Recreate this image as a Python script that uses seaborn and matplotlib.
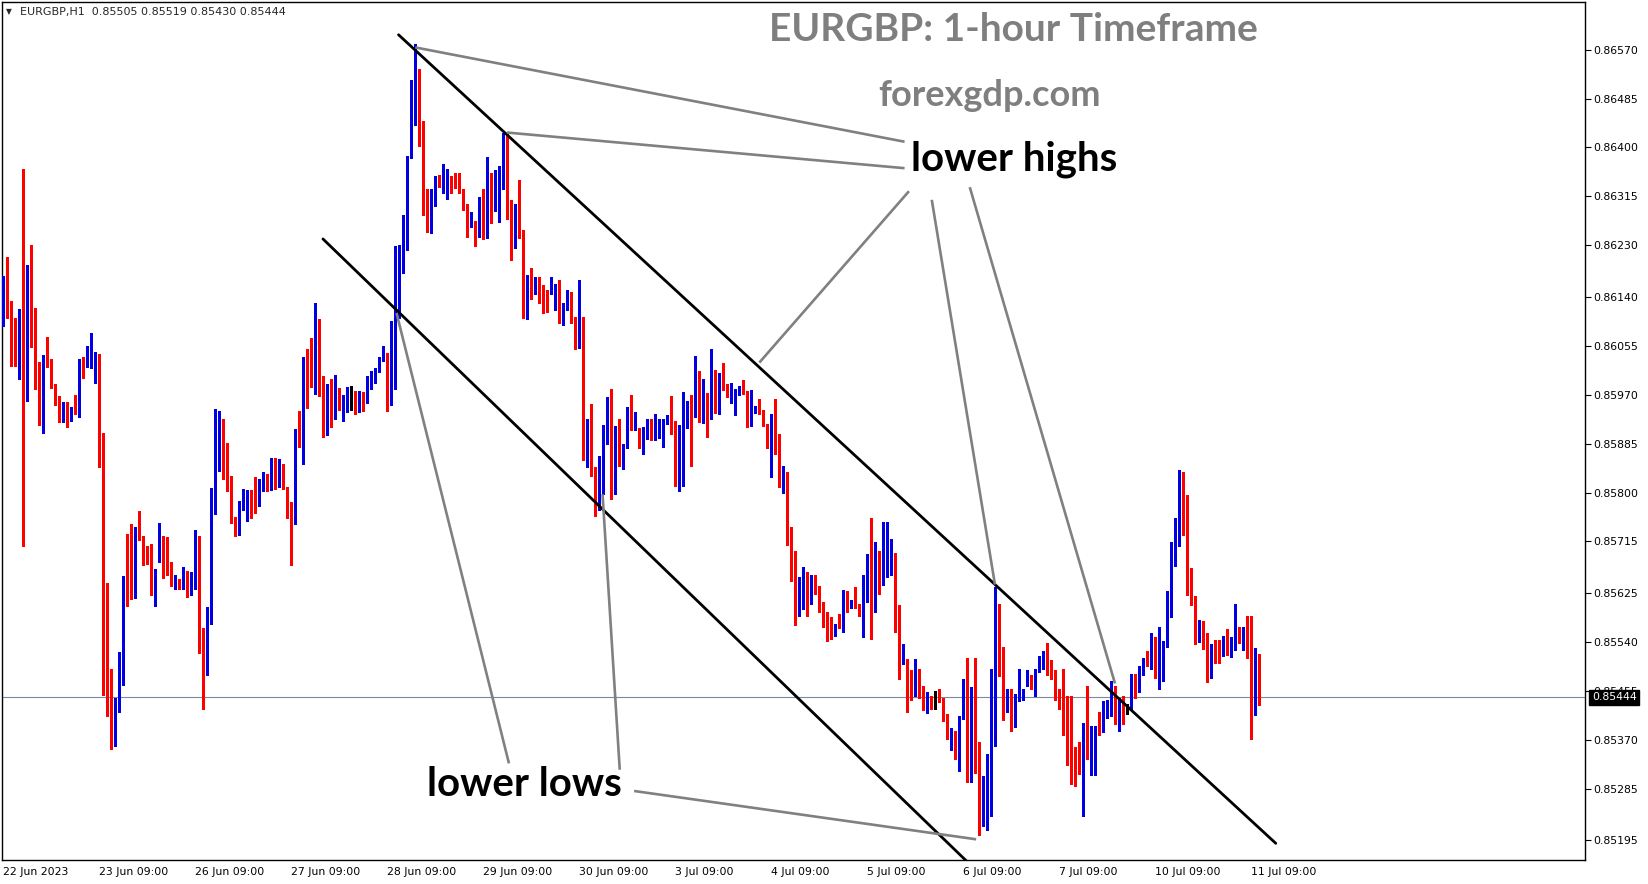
import numpy as np
import matplotlib
matplotlib.use("Agg")
from matplotlib import pyplot as plt
import seaborn as sns

# EURGBP H1 candles, prices in points (1 point = 0.00001)
opens = [
    86140, 86164, 86126, 86047, 86029, 86055, 86031, 86146, 86061, 85998, 85920, 86035,
    86023, 85985, 85961, 85937, 85954, 85927, 85943, 85940, 86022, 86019, 86021, 86031,
    86041, 85882, 85520, 85414, 85388, 85443, 85494, 85646, 85642, 85619, 85726, 85723,
    85701, 85694, 85616, 85719, 85719, 85721, 85676, 85639, 85643, 85634, 85661, 85624,
    85651, 85707, 85553, 85509, 85587, 85782, 85860, 85885, 85828, 85827, 85750, 85742,
    85782, 85802, 85792, 85782, 85786, 85809, 85827, 85820, 85844, 85812, 85846, 85810,
    85764, 85745, 85892, 85884, 86022, 86007, 85985, 86085, 85982, 85902, 85957, 85949,
    85977, 85943, 85941, 85957, 85963, 85951, 85968, 85957, 85988, 86001, 86011, 86031,
    86039, 85957, 86030, 86163, 86222, 86279, 86381, 86447, 86520, 86413, 86286, 86257,
    86299, 86351, 86338, 86327, 86337, 86346, 86336, 86326, 86298, 86268, 86272, 86247,
    86321, 86244, 86321, 86303, 86320, 86340, 86421, 86308, 86269, 86298, 86246, 86108,
    86179, 86149, 86153, 86157, 86144, 86150, 86156, 86161, 86095, 86119, 86148, 86104,
    86053, 86094, 85885, 85911, 85840, 85809, 85809, 85902, 85960, 85815, 85913, 85859,
    85879, 85941, 85921, 85903, 85895, 85902, 85924, 85900, 85906, 85912, 85921, 85925,
    85922, 85829, 85860, 85917, 85951, 85949, 85985, 85936, 85957, 85956, 86012, 85963,
    86007, 85980, 85957, 85936, 85973, 85990, 85975, 85917, 85943, 85946, 85940, 85918,
    85879, 85895, 85870, 85814, 85825, 85735, 85697, 85586, 85640, 85660, 85623, 85655,
    85636, 85595, 85581, 85581, 85552, 85579, 85568, 85624, 85602, 85607, 85602, 85593,
    85642, 85648, 85646, 85682, 85660, 85668, 85667, 85676, 85559, 85505, 85510, 85464,
    85461, 85494, 85453, 85418, 85444, 85443, 85444, 85440, 85403, 85372, 85385, 85348,
    85408, 85455, 85315, 85460, 85324, 85238, 85292, 85307, 85447, 85603, 85481, 85421,
    85455, 85394, 85440, 85451, 85464, 85480, 85461, 85490, 85501, 85522, 85484, 85482,
    85441, 85428, 85421, 85416, 85348, 85348, 85313, 85376, 85337, 85368, 85392, 85385,
    85409, 85415, 85462, 85388, 85429, 85424, 85424, 85482, 85461, 85494, 85512, 85499,
    85514, 85487, 85486, 85534, 85587, 85695, 85722, 85830, 85746, 85637, 85618, 85542,
    85575, 85545, 85486, 85541, 85528, 85520, 85546, 85527, 85538, 85562, 85547, 85560,
    85513, 85472, 85505,
]
highs = [
    86176, 86210, 86133, 86103, 86120, 86363, 86195, 86231, 86121, 86027, 86040, 86070,
    86032, 85989, 85968, 85957, 85958, 85949, 85970, 86033, 86035, 86055, 86078, 86045,
    86041, 85904, 85642, 85494, 85443, 85523, 85654, 85728, 85746, 85740, 85768, 85724,
    85707, 85711, 85667, 85747, 85724, 85723, 85679, 85657, 85649, 85671, 85664, 85661,
    85735, 85724, 85564, 85601, 85808, 85945, 85942, 85928, 85886, 85828, 85757, 85785,
    85806, 85805, 85804, 85827, 85824, 85835, 85832, 85860, 85860, 85858, 85850, 85810,
    85784, 85910, 85942, 86035, 86050, 86068, 86130, 86101, 86003, 85989, 85998, 86005,
    85982, 85969, 85983, 85985, 85977, 85977, 85975, 86003, 86011, 86017, 86035, 86055,
    86043, 86098, 86228, 86231, 86282, 86385, 86517, 86580, 86537, 86446, 86328, 86328,
    86350, 86352, 86372, 86362, 86350, 86356, 86356, 86327, 86302, 86288, 86273, 86314,
    86327, 86384, 86355, 86360, 86367, 86425, 86424, 86308, 86302, 86343, 86256, 86179,
    86190, 86174, 86174, 86161, 86153, 86175, 86163, 86169, 86130, 86153, 86149, 86105,
    86169, 86105, 85927, 85954, 85844, 85864, 85917, 85966, 85980, 85915, 85927, 85885,
    85949, 85970, 85940, 85912, 85914, 85928, 85928, 85937, 85928, 85928, 85934, 85967,
    85924, 85917, 85975, 85960, 85969, 86038, 86012, 85998, 85973, 86050, 86013, 86007,
    86025, 85989, 85990, 85980, 85986, 85996, 85976, 85979, 85950, 85963, 85943, 85920,
    85936, 85963, 85901, 85847, 85835, 85740, 85699, 85653, 85670, 85662, 85656, 85656,
    85638, 85610, 85592, 85583, 85571, 85589, 85630, 85629, 85613, 85636, 85607, 85656,
    85693, 85756, 85714, 85699, 85749, 85749, 85719, 85695, 85604, 85536, 85510, 85491,
    85510, 85494, 85463, 85453, 85447, 85455, 85458, 85443, 85415, 85390, 85386, 85412,
    85476, 85512, 85462, 85512, 85366, 85307, 85345, 85494, 85636, 85606, 85531, 85458,
    85459, 85449, 85494, 85459, 85491, 85482, 85494, 85516, 85525, 85538, 85508, 85491,
    85459, 85494, 85446, 85446, 85357, 85366, 85400, 85464, 85394, 85394, 85418, 85438,
    85440, 85473, 85464, 85443, 85446, 85433, 85485, 85485, 85498, 85513, 85525, 85555,
    85548, 85566, 85542, 85629, 85714, 85756, 85840, 85836, 85795, 85669, 85620, 85578,
    85576, 85555, 85536, 85543, 85544, 85550, 85563, 85549, 85607, 85567, 85567, 85586,
    85585, 85530, 85519,
]
lows = [
    86090, 86103, 86020, 86020, 85998, 85707, 85960, 86053, 85980, 85917, 85904, 86018,
    85982, 85953, 85922, 85922, 85914, 85925, 85937, 85932, 86000, 86018, 86017, 85991,
    85845, 85448, 85412, 85354, 85359, 85419, 85466, 85603, 85614, 85617, 85717, 85674,
    85675, 85621, 85603, 85679, 85652, 85656, 85637, 85632, 85632, 85633, 85619, 85621,
    85632, 85521, 85424, 85483, 85571, 85762, 85838, 85824, 85802, 85747, 85725, 85727,
    85769, 85750, 85756, 85765, 85776, 85802, 85802, 85805, 85807, 85810, 85807, 85756,
    85674, 85745, 85880, 85849, 85947, 85983, 85971, 85967, 85897, 85900, 85914, 85927,
    85943, 85925, 85940, 85943, 85937, 85940, 85941, 85955, 85980, 85991, 86009, 86029,
    85942, 85953, 85980, 86103, 86182, 86221, 86381, 86439, 86402, 86282, 86253, 86251,
    86298, 86331, 86320, 86311, 86320, 86330, 86320, 86291, 86244, 86261, 86228, 86244,
    86241, 86243, 86269, 86290, 86270, 86327, 86276, 86204, 86226, 86243, 86104, 86102,
    86137, 86146, 86130, 86112, 86114, 86145, 86117, 86095, 86092, 86117, 86094, 86050,
    86052, 85856, 85844, 85828, 85760, 85769, 85798, 85885, 85789, 85798, 85847, 85841,
    85878, 85909, 85908, 85878, 85867, 85893, 85892, 85891, 85895, 85879, 85920, 85902,
    85811, 85802, 85811, 85913, 85847, 85931, 85922, 85921, 85896, 85928, 85938, 85937,
    85978, 85966, 85956, 85934, 85969, 85972, 85914, 85915, 85938, 85937, 85915, 85878,
    85827, 85867, 85809, 85799, 85708, 85647, 85569, 85585, 85598, 85586, 85606, 85623,
    85592, 85566, 85542, 85546, 85551, 85565, 85557, 85592, 85599, 85599, 85586, 85548,
    85609, 85546, 85592, 85623, 85640, 85653, 85656, 85557, 85475, 85501, 85419, 85440,
    85446, 85443, 85421, 85416, 85423, 85424, 85435, 85402, 85371, 85353, 85337, 85315,
    85406, 85296, 85296, 85313, 85205, 85220, 85214, 85238, 85360, 85481, 85404, 85418,
    85385, 85392, 85438, 85440, 85464, 85458, 85446, 85488, 85494, 85482, 85476, 85440,
    85424, 85379, 85327, 85293, 85290, 85311, 85237, 85336, 85308, 85308, 85379, 85383,
    85408, 85412, 85397, 85386, 85397, 85415, 85421, 85443, 85453, 85482, 85498, 85494,
    85477, 85459, 85473, 85532, 85583, 85672, 85707, 85727, 85621, 85604, 85536, 85540,
    85528, 85470, 85477, 85504, 85504, 85515, 85517, 85514, 85527, 85538, 85527, 85513,
    85372, 85414, 85430,
]
closes = [
    86166, 86126, 86043, 86029, 86055, 86031, 86146, 86061, 85998, 85920, 86035, 86023,
    85983, 85970, 85926, 85948, 85917, 85945, 85940, 86022, 86020, 86023, 86031, 86040,
    85882, 85512, 85414, 85388, 85443, 85496, 85644, 85642, 85619, 85728, 85719, 85699,
    85694, 85625, 85661, 85723, 85709, 85675, 85639, 85643, 85636, 85659, 85623, 85655,
    85705, 85553, 85509, 85587, 85786, 85862, 85882, 85825, 85824, 85749, 85742, 85782,
    85804, 85804, 85772, 85780, 85800, 85826, 85820, 85844, 85810, 85844, 85808, 85764,
    85746, 85892, 85882, 86021, 86003, 85985, 86085, 85985, 85902, 85961, 85949, 85977,
    85945, 85950, 85968, 85957, 85949, 85970, 85955, 85987, 86003, 86012, 86031, 86041,
    85960, 86033, 86163, 86226, 86282, 86385, 86447, 86520, 86410, 86285, 86256, 86299,
    86350, 86349, 86353, 86333, 86334, 86334, 86323, 86298, 86269, 86273, 86246, 86282,
    86244, 86321, 86302, 86320, 86340, 86420, 86305, 86272, 86301, 86243, 86106, 86179,
    86149, 86163, 86149, 86140, 86140, 86156, 86161, 86096, 86123, 86149, 86104, 86050,
    86094, 85885, 85909, 85840, 85809, 85812, 85901, 85960, 85815, 85913, 85858, 85879,
    85941, 85931, 85936, 85892, 85903, 85924, 85908, 85906, 85914, 85921, 85924, 85903,
    85829, 85847, 85917, 85950, 85949, 85988, 85934, 85947, 85954, 86012, 85979, 86004,
    85980, 85967, 85980, 85975, 85980, 85973, 85917, 85944, 85947, 85940, 85917, 85879,
    85895, 85869, 85811, 85827, 85734, 85699, 85569, 85640, 85664, 85653, 85655, 85635,
    85593, 85592, 85552, 85548, 85568, 85571, 85624, 85599, 85607, 85604, 85592, 85641,
    85661, 85647, 85681, 85660, 85670, 85676, 85676, 85559, 85502, 85512, 85464, 85461,
    85496, 85464, 85426, 85440, 85432, 85443, 85438, 85403, 85372, 85388, 85348, 85409,
    85455, 85315, 85460, 85315, 85238, 85290, 85307, 85450, 85604, 85481, 85423, 85455,
    85396, 85449, 85478, 85458, 85472, 85461, 85491, 85504, 85522, 85482, 85481, 85441,
    85427, 85420, 85415, 85348, 85345, 85313, 85376, 85337, 85368, 85392, 85385, 85410,
    85416, 85470, 85415, 85427, 85412, 85424, 85484, 85463, 85494, 85512, 85501, 85514,
    85488, 85490, 85534, 85587, 85696, 85721, 85832, 85746, 85635, 85618, 85540, 85575,
    85545, 85491, 85526, 85523, 85521, 85546, 85527, 85541, 85562, 85547, 85562, 85517,
    85473, 85505, 85444,
]

date_labels = ["22 Jun 2023", "23 Jun 09:00", "26 Jun 09:00", "27 Jun 09:00",
               "28 Jun 09:00", "29 Jun 09:00", "30 Jun 09:00", "3 Jul 09:00",
               "4 Jul 09:00", "5 Jul 09:00", "6 Jul 09:00", "7 Jul 09:00",
               "10 Jul 09:00", "11 Jul 09:00"]
bars_per_label = 24

price_ticks = [0.86570, 0.86485, 0.86400, 0.86315, 0.86230, 0.86140, 0.86055,
               0.85970, 0.85885, 0.85800, 0.85715, 0.85625, 0.85540, 0.85455,
               0.85370, 0.85285, 0.85195]
last_price = 0.85444

# trend lines drawn on the chart: (bar index, price) pairs
channel_upper = [(98.8, 0.86596), (318.1, 0.85190)]
channel_lower = [(79.9, 0.86241), (260.0, 0.85030)]
lower_high_pointers = [
    [(103.0, 0.86574), (225.3, 0.86410)],
    [(125.9, 0.86426), (225.3, 0.86364)],
    [(226.4, 0.86324), (189.0, 0.86026)],
    [(232.1, 0.86309), (247.9, 0.85640)],
    [(241.6, 0.86331), (277.9, 0.85468)],
]
lower_low_pointers = [
    [(98.3, 0.86112), (126.4, 0.85329)],
    [(149.8, 0.85797), (154.1, 0.85318)],
    [(157.7, 0.85281), (243.2, 0.85197)],
]

sns.set_theme(style="white")
plt.rcParams["font.family"] = ["DejaVu Sans"]

o = np.array(opens) / 1e5
h = np.array(highs) / 1e5
l = np.array(lows) / 1e5
c = np.array(closes) / 1e5
x = np.arange(len(o))

colors = np.where(c > o, "#0000e0", np.where(c < o, "#ff0000", "#000000"))

W, H = 1649, 884
fig = plt.figure(figsize=(W / 100, H / 100), dpi=100)
ax = fig.add_axes([2 / W, 24 / H, 1583 / W, 858 / H])

ax.vlines(x, l, h, colors=colors, linewidth=0.75, antialiased=False, zorder=3)
body_low = np.minimum(o, c)
body_h = np.maximum(np.abs(c - o), 0.000018)
ax.bar(x, body_h, bottom=body_low, width=0.8, color=colors, linewidth=0,
       antialiased=False, zorder=4)

ax.axhline(last_price, color="#7a8a99", linewidth=0.8, zorder=2)

for (x0, y0), (x1, y1) in [channel_upper, channel_lower]:
    ax.plot([x0, x1], [y0, y1], color="black", linewidth=2.0, zorder=5)
for seg in lower_high_pointers + lower_low_pointers:
    (x0, y0), (x1, y1) = seg
    ax.plot([x0, x1], [y0, y1], color="#808080", linewidth=1.9, zorder=5,
            solid_capstyle="butt")

ax.set_xlim(-0.33, 395.4)
ax.set_ylim(0.85161, 0.86653)

ax.yaxis.tick_right()
ax.set_yticks(price_ticks)
ax.set_yticklabels([f"{p:.5f}" for p in price_ticks])
ax.set_xticks(np.arange(len(date_labels)) * bars_per_label)
ax.set_xticklabels(date_labels)
for t in ax.get_xticklabels():
    t.set_horizontalalignment("left")
ax.tick_params(axis="both", which="both", direction="out", length=4, width=0.8,
               colors="black", labelsize=7.8, pad=2)
ax.tick_params(axis="x", pad=1)
for s in ax.spines.values():
    s.set_color("black")
    s.set_linewidth(1.0)
ax.grid(False)

ax.annotate(f"{last_price:.5f}", xy=(1.0, last_price),
            xycoords=("axes fraction", "data"), xytext=(5, 0),
            textcoords="offset points", va="center", ha="left",
            fontsize=7.8, color="white", zorder=10, annotation_clip=False,
            bbox=dict(boxstyle="square,pad=0.25", fc="black", ec="black"))

fig.text(6 / W, 1 - 12 / H, "\u25BC", fontsize=5.5, va="center", ha="left")
fig.text(20 / W, 1 - 12 / H, "EURGBP,H1  0.85505 0.85519 0.85430 0.85444",
         fontsize=8.0, va="center", ha="left")

big = dict(family=["Lato", "DejaVu Sans"], weight="bold")
fig.text(1013 / W, 1 - 41 / H, "EURGBP: 1-hour Timeframe", fontsize=28,
         color="#7f7f7f", ha="center", va="baseline", **big)
fig.text(990 / W, 1 - 106 / H, "forexgdp.com", fontsize=26,
         color="#7f7f7f", ha="center", va="baseline", **big)
fig.text(1014 / W, 1 - 170 / H, "lower highs", fontsize=29,
         color="black", ha="center", va="baseline", **big)
fig.text(524 / W, 1 - 796 / H, "lower lows", fontsize=29,
         color="black", ha="center", va="baseline", **big)

fig.savefig("out.png", dpi=100)
